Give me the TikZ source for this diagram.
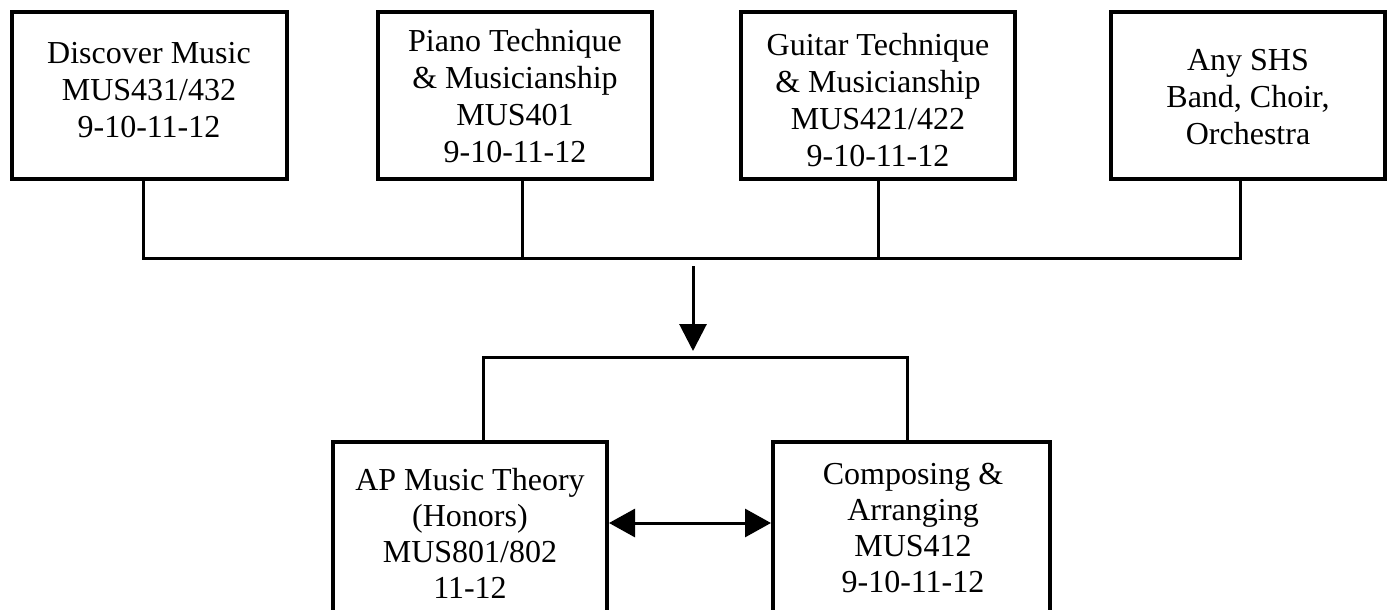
\documentclass[tikz,border=0pt]{standalone}
\usepackage{fontspec}
\setmainfont{Liberation Serif}
\usetikzlibrary{arrows.meta}
\tikzset{
  box/.style={draw=black, line width=4pt, fill=white, inner sep=0pt, minimum width=#1, minimum height=167pt},
  box/.default=275pt,
  txt/.style={align=center, inner sep=0pt, font=\fontsize{32}{37}\selectfont},
  txtb/.style={align=center, inner sep=0pt, font=\fontsize{32}{36}\selectfont},
  conn/.style={draw=black, line width=3pt},
  tip/.style={-{Triangle[width=27pt,length=27pt]}},
  dtip/.style={{Triangle[width=28pt,length=26pt]}-{Triangle[width=28pt,length=26pt]}}
}
\begin{document}
\begin{tikzpicture}[x=1pt,y=-1pt]
\useasboundingbox (0,0) rectangle (1390,610);
\fill[white] (0,0) rectangle (1390,610);
\clip (0,0) rectangle (1390,610);
% top boxes
\node[box=275pt] (b1) at (149.5,95.5) {};
\node[box=274pt] (b2) at (515,95.5) {};
\node[box=274pt] (b3) at (878,95.5) {};
\node[box=274pt] (b4) at (1248,95.5) {};
\node[txt] (t1) at (149,90) {Discover Music\\MUS431/432\\9-10-11-12};
\node[txt] (t2) at (515,96) {Piano Technique\\\& Musicianship\\MUS401\\9-10-11-12};
\node[txt] (t3) at (878,100) {Guitar Technique\\\& Musicianship\\MUS421/422\\9-10-11-12};
\node[txt] (t4) at (1248,97) {Any SHS\\Band, Choir,\\Orchestra};
% bottom boxes (cut off at the page bottom)
\node[box=274pt, minimum height=240pt] (b5) at (470,562) {};
\node[box=277pt, minimum height=240pt] (b6) at (911.5,562) {};
\node[txtb] (t5) at (470,533) {AP Music Theory\\(Honors)\\MUS801/802\\11-12};
\node[txtb] (t6) at (913,528) {Composing \&\\Arranging\\MUS412\\9-10-11-12};
% bus
\coordinate (busL) at (143,258);
\coordinate (j2) at (522,258);
\coordinate (j3) at (878,258);
\coordinate (busR) at (1240,258);
\draw[conn] (b1.south -| busL) -- (busL) -- (busR) -- (b4.south -| busR);
\draw[conn] (b2.south -| j2) -- (j2);
\draw[conn] (b3.south -| j3) -- (j3);
% down arrow
\coordinate (as) at (693,266);
\coordinate (at) at (693,351);
\draw[conn, tip] (as) -- (at);
% bracket
\coordinate (brL) at (483,357);
\coordinate (brR) at (907,357);
\draw[conn] (b5.north -| brL) -- (brL) -- (brR) -- (b6.north -| brR);
% double arrow
\coordinate (dy) at (0,523);
\draw[conn, dtip] (b5.east |- dy) -- (b6.west |- dy);
\end{tikzpicture}
\end{document}
